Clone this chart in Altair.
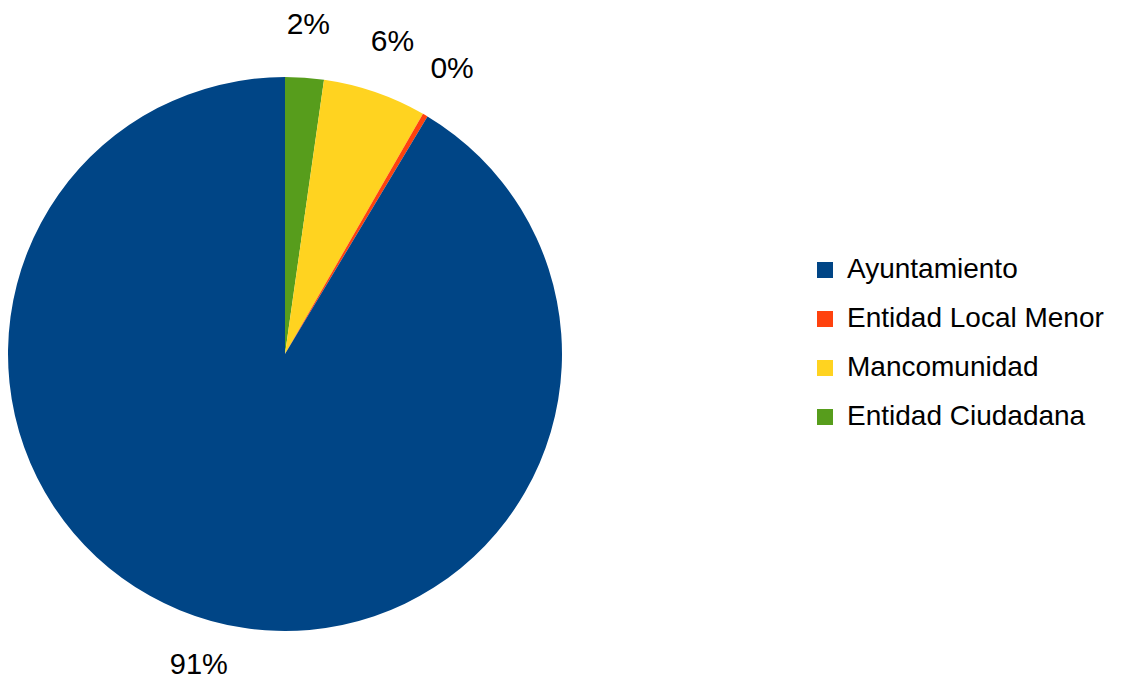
import altair as alt
import pandas as pd

categories = ["Entidad Ciudadana", "Mancomunidad", "Entidad Local Menor", "Ayuntamiento"]
values = [2.25, 6.05, 0.3, 91.4]
labels = ["2%", "6%", "0%", "91%"]
legend_order = ["Ayuntamiento", "Entidad Local Menor", "Mancomunidad", "Entidad Ciudadana"]
colors = ["#004586", "#ff420e", "#ffd320", "#579d1c"]

df = pd.DataFrame({"cat": categories, "val": values, "label": labels, "ord": list(range(len(categories)))})

CX, CY = 277, 346
FONT = "Liberation Sans"

base = alt.Chart(df).encode(
    theta=alt.Theta("val:Q", stack=True),
    order=alt.Order("ord:Q"),
)

pie = base.mark_arc(outerRadius=277, stroke=None).encode(
    x=alt.value(CX),
    y=alt.value(CY),
    color=alt.Color(
        "cat:N",
        scale=alt.Scale(domain=legend_order, range=colors),
        legend=alt.Legend(
            title=None,
            orient="none",
            legendX=803,
            legendY=248,
            symbolType="square",
            symbolSize=256,
            symbolStrokeWidth=0,
            labelFont=FONT,
            labelFontSize=28,
            labelColor="#000000",
            labelOffset=8,
            labelLimit=400,
            rowPadding=21,
        ),
    ),
)

text_top = base.mark_text(radius=330, font=FONT, fontSize=30, color="#000000").encode(
    x=alt.value(CX),
    y=alt.value(CY),
    text=alt.condition("datum.label != '91%'", "label:N", alt.value("")),
)

text_bottom = base.mark_text(radius=323, font=FONT, fontSize=29, color="#000000").encode(
    x=alt.value(CX),
    y=alt.value(CY),
    text=alt.condition("datum.label == '91%'", "label:N", alt.value("")),
)

chart = (
    alt.layer(pie, text_top, text_bottom)
    .properties(
        width=1107,
        height=673,
        autosize=alt.AutoSizeParams(type="none"),
        padding=0,
    )
    .configure_view(stroke=None)
)

chart.save("out.html", embed_options={"renderer": "svg", "actions": False})
